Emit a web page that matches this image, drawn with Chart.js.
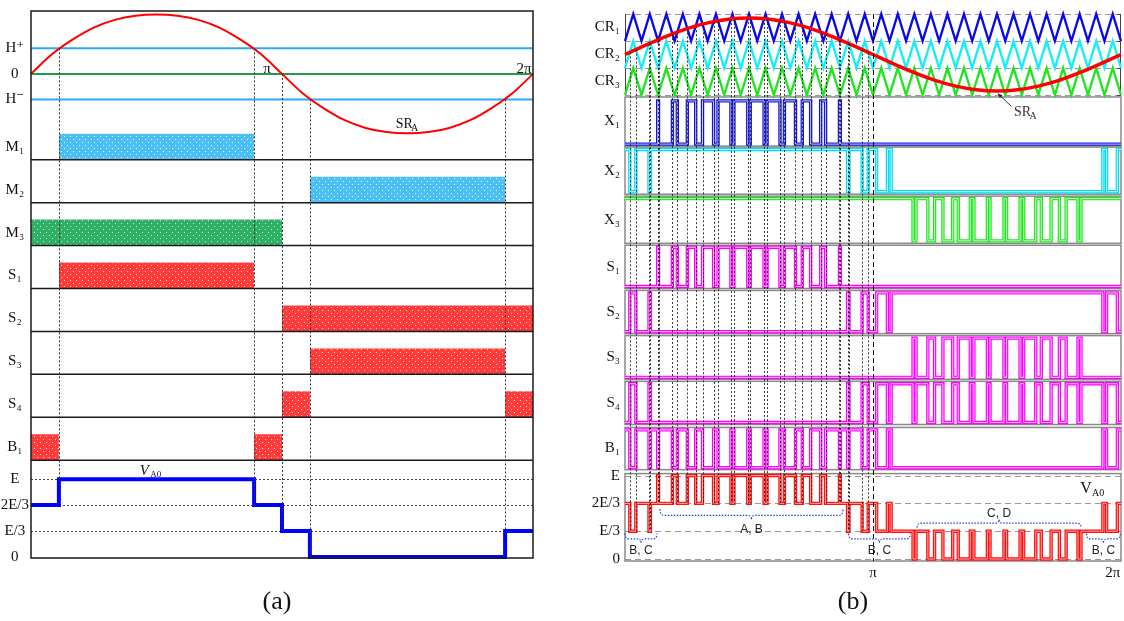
<!DOCTYPE html>
<html>
<head>
<meta charset="utf-8">
<title>Hysteresis band and level-shifted PWM switching patterns</title>
<script src="https://cdn.jsdelivr.net/npm/chart.js@4.4.1/dist/chart.umd.min.js"></script>
<style>
  html, body { margin: 0; padding: 0; background: #fff; }
  body { position: relative; width: 1124px; height: 621px; overflow: hidden; }
  canvas { position: absolute; top: 0; }
  #chartA { left: 0; }
  #chartB { left: 560px; }
  .caption { position: absolute; top: 586px; width: 60px; margin-left: -30px; text-align: center;
             font: 26px "Liberation Serif", "DejaVu Serif", serif; line-height: 30px; color: #111; }
</style>
</head>
<body>
<canvas id="chartA" width="555" height="621"></canvas>
<canvas id="chartB" width="564" height="621"></canvas>
<div class="caption" style="left:277px">(a)</div>
<div class="caption" style="left:853px">(b)</div>
<script>
const SERIF = '"Liberation Serif", "DejaVu Serif", serif';
const SANS = '"Liberation Sans", "DejaVu Sans", sans-serif';

// ---------- (a) hysteresis band: reference, band levels, switch states (angle in degrees) ----------
const sineThetaA = [0, 15, 30, 45, 60, 75, 90, 105, 120, 135, 150, 165, 180, 195, 210, 225, 240, 255, 270, 285, 300, 315, 330, 345, 360];
const sineValueA = [0, 0.33, 0.58, 0.78, 0.91, 0.98, 1, 0.98, 0.91, 0.78, 0.58, 0.33, 0, -0.33, -0.58, -0.78, -0.91, -0.98, -1, -0.98, -0.91, -0.78, -0.58, -0.33, 0];
const bandLevelsA = [0.43, 0, -0.43];          // H+, 0, H-
const m1On = [[20, 160]];
const m2On = [[200, 340]];
const m3On = [[0, 180]];
const s1On = [[20, 160]];
const s2On = [[180, 360]];
const s3On = [[200, 340]];
const s4On = [[180, 200], [340, 360]];
const b1On = [[0, 20], [160, 180]];
const vaoThetaA = [0, 20, 160, 180, 200, 340, 360];
const vaoLevelA = [2, 3, 2, 1, 0, 1, 1];        // multiples of E/3
const guideThetaA = [20, 160, 180, 200, 340];
const guideFromA = [0.43, 0.43, 0, -0.43, -0.43];

// ---------- (b) level-shifted carriers and gate signals (angle in degrees) ----------
const srThetaB = [0, 15, 30, 45, 60, 75, 90, 105, 120, 135, 150, 165, 180, 195, 210, 225, 240, 255, 270, 285, 300, 315, 330, 345, 360];
const srValueB = [0, 0.23, 0.45, 0.64, 0.78, 0.87, 0.9, 0.87, 0.78, 0.64, 0.45, 0.23, 0, -0.23, -0.45, -0.64, -0.78, -0.87, -0.9, -0.87, -0.78, -0.64, -0.45, -0.23, 0];
const carrierThetaB = [0, 6, 12, 18, 24, 30, 36, 42, 48, 54, 60, 66, 72, 78, 84, 90, 96, 102, 108, 114, 120, 126, 132, 138, 144, 150, 156, 162, 168, 174, 180,
  186, 192, 198, 204, 210, 216, 222, 228, 234, 240, 246, 252, 258, 264, 270, 276, 282, 288, 294, 300, 306, 312, 318, 324, 330, 336, 342, 348, 354, 360];
const x1Edges = [23.74, 24.33, 34.42, 37.98, 45.25, 51.32, 56.26, 64.30, 67.51, 76.89, 79.05, 89.10, 90.90, 100.95, 103.11, 112.49, 115.70, 123.74, 128.68, 134.75, 142.02, 145.58, 155.67, 156.26];
const x2Edges = [3.49, 7.89, 17.44, 18.43, 161.57, 162.56, 172.11, 176.51, 182.62, 190.47, 193.16, 346.84, 349.53, 357.38];
const x3Edges = [209.06, 211.19, 219.81, 224.69, 230.73, 237.85, 241.86, 250.64, 253.24, 263.04, 264.93, 275.07, 276.96, 286.76, 289.36, 298.14, 302.15, 309.27, 315.31, 320.19, 328.81, 330.94];
const s1Edges = [23.74, 24.33, 34.42, 37.98, 45.25, 51.32, 56.26, 64.30, 67.51, 76.89, 79.05, 89.10, 90.90, 100.95, 103.11, 112.49, 115.70, 123.74, 128.68, 134.75, 142.02, 145.58, 155.67, 156.26];
const s2Edges = [3.49, 7.89, 17.44, 18.43, 161.57, 162.56, 172.11, 176.51, 182.62, 190.47, 193.16, 346.84, 349.53, 357.38];
const s3Edges = [209.06, 211.19, 219.81, 224.69, 230.73, 237.85, 241.86, 250.64, 253.24, 263.04, 264.93, 275.07, 276.96, 286.76, 289.36, 298.14, 302.15, 309.27, 315.31, 320.19, 328.81, 330.94];
const s4Edges = [3.49, 7.89, 17.44, 18.43, 161.57, 162.56, 172.11, 176.51, 182.62, 190.47, 193.16, 209.06, 211.19, 219.81, 224.69, 230.73, 237.85, 241.86, 250.64, 253.24, 263.04, 264.93,
  275.07, 276.96, 286.76, 289.36, 298.14, 302.15, 309.27, 315.31, 320.19, 328.81, 330.94, 346.84, 349.53, 357.38];
const b1Edges = [3.49, 7.89, 17.44, 18.43, 23.74, 24.33, 34.42, 37.98, 45.25, 51.32, 56.26, 64.30, 67.51, 76.89, 79.05, 89.10, 90.90, 100.95, 103.11, 112.49, 115.70, 123.74,
  128.68, 134.75, 142.02, 145.58, 155.67, 156.26, 161.57, 162.56, 172.11, 176.51, 182.62, 190.47, 193.16, 346.84, 349.53, 357.38];
const vaoThetaB = [0, 3.49, 7.89, 17.44, 18.43, 23.74, 24.33, 34.42, 37.98, 45.25, 51.32, 56.26, 64.30, 67.51, 76.89, 79.05, 89.10, 90.90, 100.95, 103.11, 112.49, 115.70, 123.74,
  128.68, 134.75, 142.02, 145.58, 155.67, 156.26, 161.57, 162.56, 172.11, 176.51, 182.62, 190.47, 193.16, 209.06, 211.19, 219.81, 224.69, 230.73, 237.85, 241.86, 250.64,
  253.24, 263.04, 264.93, 275.07, 276.96, 286.76, 289.36, 298.14, 302.15, 309.27, 315.31, 320.19, 328.81, 330.94, 346.84, 349.53, 357.38, 360];
const vaoLevelB = [2, 1, 2, 1, 2,
  3, 2, 3, 2, 3, 2, 3, 2, 3, 2, 3, 2, 3, 2, 3, 2, 3, 2, 3, 2, 3, 2, 3, 2,
  1, 2, 1, 2, 1, 2, 1,
  0, 1, 0, 1, 0, 1, 0, 1, 0, 1, 0, 1, 0, 1, 0, 1, 0, 1, 0, 1, 0, 1,
  2, 1, 2, 2];
const guideThetaB = [3.49, 7.89, 17.44, 18.43, 23.74, 24.33, 34.42, 37.98, 45.25, 51.32, 56.26, 64.30, 67.51, 76.89, 79.05, 89.10, 90.90, 100.95, 103.11, 112.49,
  115.70, 123.74, 128.68, 134.75, 142.02, 145.58, 155.67, 156.26, 161.57, 162.56, 172.11, 176.51];
const levelNames = ['0', 'E/3', '2E/3', 'E'];

// ---------- layout (pixels on each canvas' y scale) ----------
const LA = { top: 10, bottom: 558, zero: 73, amp: 59.5, rowTop: 116, rowH: 43, barH: 26, vaoZero: 557, vaoStep: 26 };
const sineY = v => LA.zero - v * LA.amp;
const vaoYA = l => LA.vaoZero - l * LA.vaoStep;

const LB = { top: 4, bottom: 561, bandTop: [4, 31.5, 59], bandH: 27.5, srMid: 45.25, srAmp: 41.25, vaoTop: 472, vaoZero: 559, vaoStep: 28.33 };
const rowsB = [
  { name: 'X₁', top: 88.5, hi: 92.5, lo: 136.5, bottom: 138.5 },
  { name: 'X₂', top: 139.5, hi: 142, lo: 185, bottom: 187.5 },
  { name: 'X₃', top: 189.5, hi: 192, lo: 235, bottom: 237.5 },
  { name: 'S₁', top: 239.5, hi: 241.5, lo: 281.5, bottom: 283.5 },
  { name: 'S₂', top: 285.5, hi: 288, lo: 327.5, bottom: 329.5 },
  { name: 'S₃', top: 331.5, hi: 334, lo: 374, bottom: 376 },
  { name: 'S₄', top: 378, hi: 380.5, lo: 420, bottom: 422 },
  { name: 'B₁', top: 425, hi: 427.5, lo: 466, bottom: 468 }
];
const srY = v => LB.srMid - v * LB.srAmp;
const vaoYB = l => LB.vaoZero - l * LB.vaoStep;

// coarse halftone fill like the printed figure
function dotPattern(base, dot) {
  const c = document.createElement('canvas');
  c.width = 6; c.height = 6;
  const g = c.getContext('2d');
  g.fillStyle = base; g.fillRect(0, 0, 6, 6);
  g.fillStyle = dot; g.fillRect(1, 1, 1, 1); g.fillRect(4, 4, 1, 1);
  return g.createPattern(c, 'repeat');
}

function trace(points, color, width, extra) {
  return Object.assign({
    data: points, borderColor: color, backgroundColor: color, borderWidth: width,
    pointRadius: 0, fill: false, tension: 0, clip: 8, borderCapStyle: 'butt', borderJoinStyle: 'miter'
  }, extra || {});
}

function togglePoints(edges, startHigh, hiY, loY) {
  let high = startHigh;
  const pts = [{ x: 0, y: high ? hiY : loY }];
  edges.forEach(e => { high = !high; pts.push({ x: e, y: high ? hiY : loY }); });
  pts.push({ x: 360, y: high ? hiY : loY });
  return pts;
}

function yAxis(min, max, width, ticks, size, align, pad) {
  return {
    type: 'linear', min, max, reverse: true,
    grid: { display: false, drawTicks: false }, border: { display: false },
    afterFit: s => { s.width = width; },
    afterBuildTicks: s => { s.ticks = ticks.map(t => ({ value: t.v })); },
    ticks: {
      autoSkip: false, padding: pad, crossAlign: align, color: '#111',
      font: { family: SERIF, size },
      callback: v => (ticks.find(t => t.v === v) || { label: '' }).label
    }
  };
}

// ================= panel (a) =================
const patBlue = dotPattern('#4cc0f2', '#e0f5fe');
const patGreen = dotPattern('#2fb066', '#c4ebd3');
const patRed = dotPattern('#ff3c3c', '#ffd0d0');
const rowsA = [['M₁', m1On, patBlue], ['M₂', m2On, patBlue], ['M₃', m3On, patGreen], ['S₁', s1On, patRed],
               ['S₂', s2On, patRed], ['S₃', s3On, patRed], ['S₄', s4On, patRed], ['B₁', b1On, patRed]];

const dsA = [];
bandLevelsA.forEach((v, i) => {
  dsA.push(trace([{ x: 0, y: sineY(v) }, { x: 360, y: sineY(v) }], i === 1 ? '#1f9d4a' : '#2ea8f2', 2));
});
rowsA.forEach(([, on, pat], r) => {
  const bottom = LA.rowTop + (r + 1) * LA.rowH;
  const top = bottom - LA.barH;
  on.forEach(([a, b]) => dsA.push({
    data: [{ x: a, y: top }, { x: b, y: top }], borderWidth: 0, borderColor: 'transparent',
    pointRadius: 0, backgroundColor: pat, fill: { value: bottom }, tension: 0
  }));
});
dsA.push(trace(sineThetaA.map((t, i) => ({ x: t, y: sineY(sineValueA[i]) })), '#ff0000', 2, { cubicInterpolationMode: 'monotone' }));
dsA.push(trace(vaoThetaA.map((t, i) => ({ x: t, y: vaoYA(vaoLevelA[i]) })), '#0000ff', 4, { stepped: true }));
dsA.forEach((d, i) => { d.order = -i; });

const ticksA = [
  { v: sineY(bandLevelsA[0]), label: 'H⁺' }, { v: sineY(0), label: '0' }, { v: sineY(bandLevelsA[2]), label: 'H⁻' }
].concat(rowsA.map(([name], r) => ({ v: LA.rowTop + (r + 1) * LA.rowH - LA.barH / 2, label: name })))
 .concat([3, 2, 1, 0].map(l => ({ v: vaoYA(l), label: levelNames[l] })));

const panelA = {
  id: 'panelA',
  beforeDatasetsDraw(chart) {
    const { ctx, chartArea: ca, scales: { y } } = chart;
    ctx.save();
    ctx.strokeStyle = '#444'; ctx.lineWidth = 1; ctx.setLineDash([2, 2]);
    [3, 2, 1].forEach(l => {
      const py = Math.round(y.getPixelForValue(vaoYA(l))) + 0.5;
      ctx.beginPath(); ctx.moveTo(ca.left, py); ctx.lineTo(ca.right, py); ctx.stroke();
    });
    ctx.restore();
  },
  afterDatasetsDraw(chart) {
    const { ctx, chartArea: ca, scales: { x, y } } = chart;
    ctx.save();
    // row separators and frame
    ctx.strokeStyle = '#1a1a1a'; ctx.lineWidth = 1.5;
    for (let r = 0; r < rowsA.length; r++) {
      const py = y.getPixelForValue(LA.rowTop + (r + 1) * LA.rowH);
      ctx.beginPath(); ctx.moveTo(ca.left, py); ctx.lineTo(ca.right, py); ctx.stroke();
    }
    ctx.strokeRect(ca.left, ca.top, ca.right - ca.left, ca.bottom - ca.top);
    // dotted switching instants
    ctx.strokeStyle = '#333'; ctx.lineWidth = 1; ctx.setLineDash([2, 2]);
    guideThetaA.forEach((t, i) => {
      const px = Math.round(x.getPixelForValue(t)) + 0.5;
      const lvl = vaoLevelA[vaoThetaA.indexOf(t)];
      ctx.beginPath();
      ctx.moveTo(px, y.getPixelForValue(sineY(guideFromA[i])));
      ctx.lineTo(px, y.getPixelForValue(vaoYA(lvl)));
      ctx.stroke();
    });
    ctx.setLineDash([]);
    // texts
    ctx.fillStyle = '#111'; ctx.textBaseline = 'alphabetic'; ctx.textAlign = 'center';
    ctx.font = `15px ${SERIF}`;
    ctx.fillText('π', x.getPixelForValue(169.2), y.getPixelForValue(72));
    ctx.fillText('2π', x.getPixelForValue(353.5), y.getPixelForValue(72));
    ctx.textAlign = 'left';
    ctx.font = `14px ${SERIF}`;
    ctx.fillText('SR', x.getPixelForValue(261.5), y.getPixelForValue(127));
    ctx.font = `10px ${SERIF}`;
    ctx.fillText('A', x.getPixelForValue(272.5), y.getPixelForValue(130));
    ctx.font = `italic 15px ${SERIF}`;
    ctx.fillText('V', x.getPixelForValue(78), y.getPixelForValue(475));
    ctx.font = `9px ${SERIF}`;
    ctx.fillText('A0', x.getPixelForValue(85.5), y.getPixelForValue(477));
    ctx.restore();
  }
};

new Chart(document.getElementById('chartA'), {
  type: 'line',
  data: { datasets: dsA },
  options: {
    responsive: false, animation: false, events: [],
    layout: { padding: { left: 0, right: 22, top: 10, bottom: 63 } },
    plugins: { legend: { display: false }, tooltip: { enabled: false } },
    scales: {
      x: { type: 'linear', min: 0, max: 360, display: false },
      y: yAxis(LA.top, LA.bottom, 31, ticksA, 15, 'center', 2)
    }
  },
  plugins: [panelA]
});

// ================= panel (b) =================
const carrierColors = ['#0a0ae6', '#14eef6', '#20e420'];
const signalsB = [
  [x1Edges, false, '#1414d6', '#c4c8ff'],
  [x2Edges, true, '#00dcee', '#c8fbff'],
  [x3Edges, true, '#20e620', '#c8ffc8'],
  [s1Edges, false, '#ff00ff', '#ffc4ff'],
  [s2Edges, false, '#ff00ff', '#ffc4ff'],
  [s3Edges, false, '#ff00ff', '#ffc4ff'],
  [s4Edges, false, '#ff00ff', '#ffc4ff'],
  [b1Edges, true, '#ff00ff', '#ffc4ff']
];

const dsB = [];
LB.bandTop.forEach((top, k) => {
  dsB.push(trace(carrierThetaB.map((t, i) => ({ x: t, y: i % 2 ? top : top + LB.bandH })), carrierColors[k], 2.4));
});
dsB.push(trace(srThetaB.map((t, i) => ({ x: t, y: srY(srValueB[i]) })), '#ff0000', 3.5, { cubicInterpolationMode: 'monotone' }));
signalsB.forEach(([edges, startHigh, color, inner], r) => {
  const row = rowsB[r];
  const pts = togglePoints(edges, startHigh, row.hi, row.lo);
  dsB.push(trace(pts, color, 3.4, { stepped: true }));
  dsB.push(trace(pts, inner, 1, { stepped: true }));
});
const vaoPtsB = vaoThetaB.map((t, i) => ({ x: t, y: vaoYB(vaoLevelB[i]) }));
dsB.push(trace(vaoPtsB, '#ff1010', 3.4, { stepped: true }));
dsB.push(trace(vaoPtsB, '#ffa8a8', 1, { stepped: true }));
dsB.forEach((d, i) => { d.order = -i; });

const ticksB = ['CR₁', 'CR₂', 'CR₃'].map((n, k) => ({ v: LB.bandTop[k] + LB.bandH / 2, label: n }))
  .concat(rowsB.map(r => ({ v: (r.top + r.bottom) / 2, label: r.name })))
  .concat([3, 2, 1, 0].map(l => ({ v: vaoYB(l), label: levelNames[l] })));

function srAt(t) {
  for (let i = 1; i < srThetaB.length; i++) {
    if (t <= srThetaB[i]) {
      const f = (t - srThetaB[i - 1]) / (srThetaB[i] - srThetaB[i - 1]);
      return srValueB[i - 1] + f * (srValueB[i] - srValueB[i - 1]);
    }
  }
  return 0;
}

function brace(ctx, x0, x1, yTip, yLine, yNub, xm) {
  const r = 4;
  ctx.beginPath();
  ctx.moveTo(x0, yTip);
  ctx.quadraticCurveTo(x0, yLine, x0 + r, yLine);
  ctx.lineTo(xm - r, yLine);
  ctx.quadraticCurveTo(xm, yLine, xm, yNub);
  ctx.moveTo(xm, yNub);
  ctx.quadraticCurveTo(xm, yLine, xm + r, yLine);
  ctx.lineTo(x1 - r, yLine);
  ctx.quadraticCurveTo(x1, yLine, x1, yTip);
  ctx.stroke();
}

const bracesB = [
  { from: 0, to: 23.2, tip: 533, line: 538.5, nub: 542.5, text: 'B, C', ty: 550 },
  { from: 25.4, to: 158.2, tip: 508, line: 514.5, nub: 518.5, text: 'A, B', ty: 529 },
  { from: 162.3, to: 207, tip: 533, line: 538.5, nub: 542.5, text: 'B, C', ty: 550 },
  { from: 212, to: 331, tip: 527, line: 522.5, nub: 519, text: 'C, D', ty: 513 },
  { from: 335, to: 359.5, tip: 533, line: 538.5, nub: 542.5, text: 'B, C', ty: 550 }
];

const panelB = {
  id: 'panelB',
  beforeDatasetsDraw(chart) {
    const { ctx, chartArea: ca, scales: { y } } = chart;
    ctx.save();
    // carrier band limits
    ctx.strokeStyle = '#9a9a9a'; ctx.lineWidth = 1; ctx.setLineDash([6, 4]);
    LB.bandTop.concat([LB.bandTop[2] + LB.bandH]).forEach(v => {
      const py = Math.round(y.getPixelForValue(v)) + 0.5;
      ctx.beginPath(); ctx.moveTo(ca.left, py); ctx.lineTo(ca.right, py); ctx.stroke();
    });
    // output level lines
    [3, 2, 1, 0].forEach(l => {
      const py = Math.round(y.getPixelForValue(vaoYB(l))) + 0.5;
      ctx.beginPath(); ctx.moveTo(ca.left, py); ctx.lineTo(ca.right, py); ctx.stroke();
    });
    ctx.setLineDash([]);
    // row boxes
    ctx.strokeStyle = '#8a8a8a'; ctx.lineWidth = 1.5;
    rowsB.forEach(r => {
      const t = y.getPixelForValue(r.top), b = y.getPixelForValue(r.bottom);
      ctx.strokeRect(ca.left, t, ca.right - ca.left, b - t);
    });
    const vt = y.getPixelForValue(LB.vaoTop);
    ctx.strokeRect(ca.left, vt, ca.right - ca.left, ca.bottom - vt);
    // carrier area sides
    ctx.strokeStyle = '#444'; ctx.lineWidth = 1;
    const cb = y.getPixelForValue(LB.bandTop[2] + LB.bandH);
    ctx.beginPath();
    ctx.moveTo(ca.left + 0.5, ca.top); ctx.lineTo(ca.left + 0.5, cb);
    ctx.moveTo(ca.right - 0.5, ca.top); ctx.lineTo(ca.right - 0.5, cb);
    LB.bandTop.concat([LB.bandTop[2] + LB.bandH]).forEach(v => {
      const py = Math.round(y.getPixelForValue(v)) + 0.5;
      ctx.moveTo(ca.right - 4, py); ctx.lineTo(ca.right, py);
    });
    ctx.stroke();
    ctx.restore();
  },
  afterDatasetsDraw(chart) {
    const { ctx, chartArea: ca, scales: { x, y } } = chart;
    ctx.save();
    // dotted switching instants
    ctx.strokeStyle = '#222'; ctx.lineWidth = 0.9; ctx.setLineDash([2, 2]);
    guideThetaB.forEach(t => {
      const i = vaoThetaB.indexOf(t);
      const lvl = Math.min(vaoLevelB[i], vaoLevelB[i - 1]);
      const px = Math.round(x.getPixelForValue(t)) + 0.5;
      ctx.beginPath();
      ctx.moveTo(px, y.getPixelForValue(srY(srAt(t))));
      ctx.lineTo(px, y.getPixelForValue(vaoYB(lvl)));
      ctx.stroke();
    });
    // pi line
    ctx.setLineDash([5, 3]); ctx.strokeStyle = '#111'; ctx.lineWidth = 1;
    const pp = Math.round(x.getPixelForValue(180)) + 0.5;
    ctx.beginPath(); ctx.moveTo(pp, ca.top); ctx.lineTo(pp, ca.bottom); ctx.stroke();
    // braces
    ctx.strokeStyle = '#2040e0'; ctx.lineWidth = 1.2; ctx.setLineDash([1.5, 1.5]);
    bracesB.forEach(b => {
      const x0 = x.getPixelForValue(b.from), x1 = x.getPixelForValue(b.to);
      brace(ctx, x0, x1, y.getPixelForValue(b.tip), y.getPixelForValue(b.line), y.getPixelForValue(b.nub), (x0 + x1) / 2);
    });
    ctx.setLineDash([]);
    ctx.fillStyle = '#222'; ctx.textAlign = 'center'; ctx.textBaseline = 'middle';
    ctx.font = `12px ${SANS}`;
    bracesB.forEach(b => {
      ctx.fillText(b.text, (x.getPixelForValue(b.from) + x.getPixelForValue(b.to)) / 2, y.getPixelForValue(b.ty));
    });
    // axis marks
    ctx.fillStyle = '#111'; ctx.textBaseline = 'alphabetic';
    ctx.font = `15px ${SERIF}`;
    ctx.fillText('π', x.getPixelForValue(180), ca.bottom + 16);
    ctx.fillText('2π', x.getPixelForValue(354), ca.bottom + 16);
    // output label
    ctx.textAlign = 'left';
    ctx.font = `16px ${SERIF}`;
    ctx.fillText('V', x.getPixelForValue(330.5), y.getPixelForValue(492));
    ctx.font = `10px ${SERIF}`;
    ctx.fillText('A0', x.getPixelForValue(339), y.getPixelForValue(495));
    // SR_A annotation
    ctx.fillStyle = '#333';
    ctx.font = `14px ${SERIF}`;
    ctx.fillText('SR', x.getPixelForValue(282.3), y.getPixelForValue(108));
    ctx.font = `10px ${SERIF}`;
    ctx.fillText('A', x.getPixelForValue(293.5), y.getPixelForValue(111));
    const ax0 = x.getPixelForValue(280.4), ay0 = y.getPixelForValue(98);
    const ax1 = x.getPixelForValue(270.6), ay1 = y.getPixelForValue(85);
    ctx.strokeStyle = '#222'; ctx.lineWidth = 0.9;
    ctx.beginPath(); ctx.moveTo(ax0, ay0); ctx.lineTo(ax1, ay1); ctx.stroke();
    const ang = Math.atan2(ay1 - ay0, ax1 - ax0);
    ctx.beginPath();
    ctx.moveTo(ax1, ay1);
    ctx.lineTo(ax1 - 5 * Math.cos(ang - 0.4), ay1 - 5 * Math.sin(ang - 0.4));
    ctx.lineTo(ax1 - 5 * Math.cos(ang + 0.4), ay1 - 5 * Math.sin(ang + 0.4));
    ctx.closePath(); ctx.fillStyle = '#222'; ctx.fill();
    ctx.restore();
  }
};

new Chart(document.getElementById('chartB'), {
  type: 'line',
  data: { datasets: dsB },
  options: {
    responsive: false, animation: false, events: [],
    layout: { padding: { left: 0, right: 3, top: 4, bottom: 60 } },
    plugins: { legend: { display: false }, tooltip: { enabled: false } },
    scales: {
      x: { type: 'linear', min: 0, max: 360, display: false },
      y: yAxis(LB.top, LB.bottom, 65, ticksB, 15, 'near', 5)
    }
  },
  plugins: [panelB]
});
</script>
</body>
</html>
